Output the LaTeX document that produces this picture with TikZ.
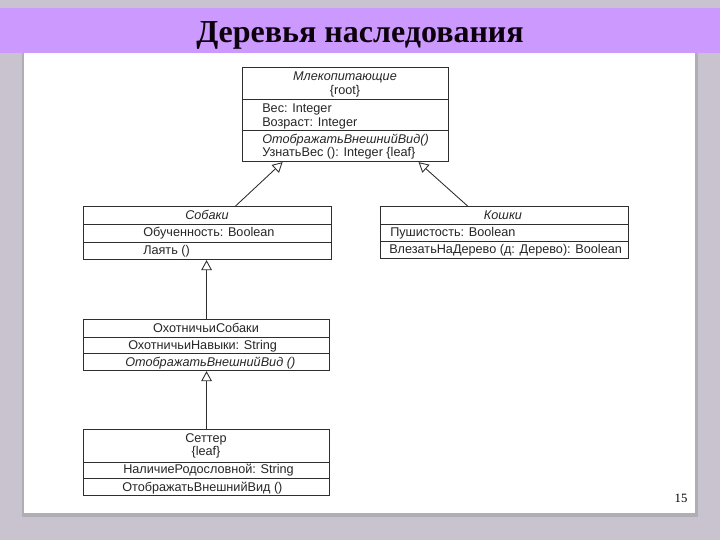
\documentclass[tikz,border=0pt]{standalone}
\usepackage{fontspec}
\setmainfont{Liberation Serif}
\newfontfamily\umlfont{Liberation Sans}
\usetikzlibrary{arrows.meta,calc}
\definecolor{bgcol}{HTML}{C8C3CE}
\definecolor{titlecol}{HTML}{CC99FF}
\definecolor{shadowcol}{HTML}{8E8A94}
\definecolor{linecol}{HTML}{2E2E2E}
\tikzset{
  comp/.style={draw=linecol, line width=0.85pt, fill=white, inner sep=0pt, anchor=north west, rectangle},
  txt/.style={font=\umlfont\fontsize{9.5pt}{10pt}\selectfont, inner sep=0pt, text=black!85},
  inh/.style={draw=linecol, line width=0.65pt, -{Triangle[open, length=7.5pt, width=8pt, line width=0.65pt]}}
}
\begin{document}
\begin{tikzpicture}[x=0.75pt, y=-0.75pt]
\useasboundingbox (0,0) rectangle (720,540);
% background
\fill[bgcol] (0,0) rectangle (720,540);
\fill[shadowcol!70] (22,53) rectangle (698,517);
\fill[white] (24,53) rectangle (694.5,512.5);
\fill[titlecol] (0,8) rectangle (720,53);
\node[font=\bfseries\fontsize{24pt}{26pt}\selectfont, anchor=base, inner sep=0pt, text=black!90!violet] (title) at (360,42) {Деревья наследования};
\node[font=\fontsize{9.5pt}{11pt}\selectfont, anchor=base, inner sep=0pt] (pnum) at (681,502) {15};

% Mammals
\node[comp, minimum width=154.5pt, minimum height=24pt] (mamN) at (242,67) {};
\node[comp, minimum width=154.5pt, minimum height=23.25pt] (mamA) at (242,99) {};
\node[comp, minimum width=154.5pt, minimum height=23.25pt] (mamO) at (242,130) {};
\node[txt, anchor=base] (m1) at (345,80) {\itshape Млекопитающие};
\node[txt, anchor=base] (m2) at (345,94) {\{root\}};
\node[txt, anchor=base west] (m3) at (262,112) {Вес: Integer};
\node[txt, anchor=base west] (m4) at (262,126) {Возраст: Integer};
\node[txt, anchor=base west] (m5) at (262,143) {\itshape ОтображатьВнешнийВид()};
\node[txt, anchor=base west] (m6) at (262,156) {УзнатьВес (): Integer \{leaf\}};

% Dogs
\node[comp, minimum width=186pt, minimum height=13.5pt] (dogN) at (83,206) {};
\node[comp, minimum width=186pt, minimum height=13.5pt] (dogA) at (83,224) {};
\node[comp, minimum width=186pt, minimum height=12.75pt] (dogO) at (83,242) {};
\node[txt, anchor=base] (d1) at (207,219.5) {\itshape Собаки};
\node[txt, anchor=base west] (d2) at (143,236.5) {Обученность: Boolean};
\node[txt, anchor=base west] (d3) at (143,254) {Лаять ()};

% Cats
\node[comp, minimum width=186pt, minimum height=13.5pt] (catN) at (380,206) {};
\node[comp, minimum width=186pt, minimum height=12.75pt] (catA) at (380,224) {};
\node[comp, minimum width=186pt, minimum height=12.75pt] (catO) at (380,241) {};
\node[txt, anchor=base] (c1) at (503,219.5) {\itshape Кошки};
\node[txt, anchor=base west] (c2) at (390,236) {Пушистость: Boolean};
\node[txt, anchor=base west] (c3) at (389,253) {ВлезатьНаДерево (д: Дерево): Boolean};

% Hunting dogs
\node[comp, minimum width=184.5pt, minimum height=13.5pt] (huntN) at (83,319) {};
\node[comp, minimum width=184.5pt, minimum height=12pt] (huntA) at (83,337) {};
\node[comp, minimum width=184.5pt, minimum height=12.75pt] (huntO) at (83,353) {};
\node[txt, anchor=base] (h1) at (206,332.5) {ОхотничьиСобаки};
\node[txt, anchor=base west] (h2) at (128,349) {ОхотничьиНавыки: String};
\node[txt, anchor=base west] (h3) at (125,366) {\itshape ОтображатьВнешнийВид ()};

% Setter
\node[comp, minimum width=184.5pt, minimum height=24.75pt] (setN) at (83,429) {};
\node[comp, minimum width=184.5pt, minimum height=12pt] (setA) at (83,462) {};
\node[comp, minimum width=184.5pt, minimum height=12.75pt] (setO) at (83,478) {};
\node[txt, anchor=base] (s1) at (206,442) {Сеттер};
\node[txt, anchor=base] (s2) at (206,455) {\{leaf\}};
\node[txt, anchor=base west] (s3) at (123,473.5) {НаличиеРодословной: String};
\node[txt, anchor=base west] (s4) at (122,491) {ОтображатьВнешнийВид ()};

% generalizations
\draw[inh] ($(dogN.north)+(28,0)$) -- ($(mamO.south)+(-63,0)$);
\draw[inh] ($(catN.north)+(-37,0)$) -- ($(mamO.south)+(73,0)$);
\draw[inh] (huntN.north) -- (huntN.north |- dogO.south);
\draw[inh] (setN.north) -- (setN.north |- huntO.south);
\end{tikzpicture}
\end{document}
